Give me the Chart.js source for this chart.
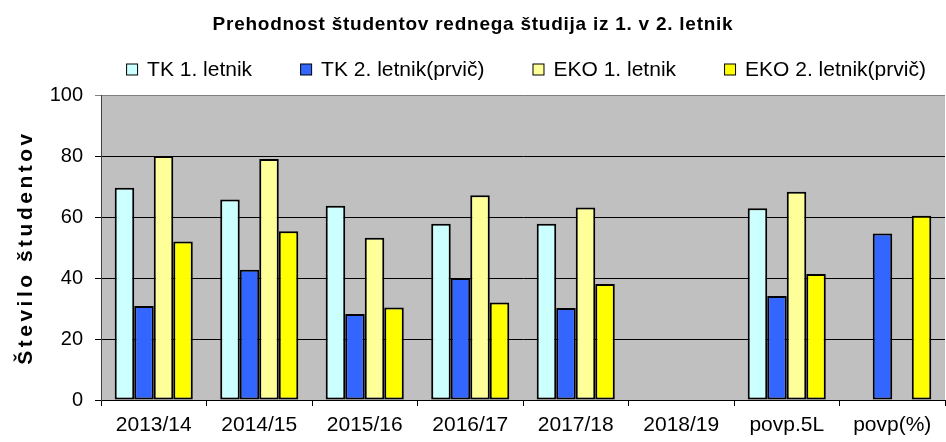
<!DOCTYPE html>
<html>
<head>
<meta charset="utf-8">
<script src="https://cdn.jsdelivr.net/npm/chart.js@4"></script>
<style>
  html, body { margin: 0; padding: 0; background: #fff; }
  #wrap { width: 946px; height: 442px; }
</style>
</head>
<body>
<div id="wrap"><canvas id="chart" width="946" height="442"></canvas></div>
<script>
// --- Data ---
const categories = ['2013/14', '2014/15', '2015/16', '2016/17', '2017/18', '2018/19', 'povp.5L', 'povp(%)'];
const tk1 = [69.6, 65.7, 63.7, 57.8, 57.8, null, 62.9, null];
const tk2 = [30.8, 42.7, 28.2, 40.0, 30.2, null, 34.1, 54.6];
const eko1 = [80.0, 79.0, 53.2, 67.1, 63.1, null, 68.3, null];
const eko2 = [52.0, 55.3, 30.3, 32.0, 38.0, null, 41.3, 60.4];
const yTicks = [0, 20, 40, 60, 80, 100];

const titleText = 'Prehodnost študentov rednega študija iz 1. v 2. letnik';
const yTitleText = 'Število študentov';

const FONT = "'Liberation Sans', Arial, sans-serif";

// grey plot background
const plotBg = {
    id: 'plotBg',
    beforeDraw(chart) {
        const { ctx, chartArea: a } = chart;
        ctx.save();
        ctx.fillStyle = '#C0C0C0';
        ctx.fillRect(a.left, a.top, a.right - a.left, a.bottom - a.top);
        ctx.restore();
    }
};

// title, legend and y title (drawn by hand for the letter spacing / wide legend gaps)
const texts = {
    id: 'texts',
    afterDraw(chart) {
        const { ctx, chartArea: a } = chart;
        ctx.save();
        ctx.fillStyle = '#000';

        // title
        ctx.font = 'bold 19px ' + FONT;
        ctx.letterSpacing = '0.75px';
        ctx.textAlign = 'center';
        ctx.textBaseline = 'middle';
        ctx.fillText(titleText, chart.width / 2, 25);

        // y axis title
        ctx.font = 'bold 21px ' + FONT;
        ctx.letterSpacing = '3.5px';
        ctx.translate(26, (a.top + a.bottom) / 2);
        ctx.rotate(-Math.PI / 2);
        ctx.fillText(yTitleText, 0, 0);
        ctx.setTransform(1, 0, 0, 1, 0, 0);

        // legend
        ctx.letterSpacing = '0px';
        ctx.font = '21px ' + FONT;
        ctx.textAlign = 'left';
        const box = 11, gapText = 10, gapItem = 48, y = 69;
        const items = chart.data.datasets.map(ds => ({
            label: ds.label, color: ds.backgroundColor, w: ctx.measureText(ds.label).width
        }));
        const total = items.reduce((s, it) => s + box + gapText + it.w, 0) + gapItem * (items.length - 1);
        let x = (a.left + a.right) / 2 + 3 - total / 2;
        items.forEach(it => {
            ctx.fillStyle = it.color;
            ctx.fillRect(x + 0.5, y - box / 2 + 0.5, box, box);
            ctx.strokeStyle = '#000';
            ctx.lineWidth = 1;
            ctx.strokeRect(x + 0.5, y - box / 2 + 0.5, box, box);
            ctx.fillStyle = '#000';
            ctx.fillText(it.label, x + box + gapText, y + 1);
            x += box + gapText + it.w + gapItem;
        });
        ctx.restore();
    }
};

function bar(label, data, color) {
    return {
        label: label,
        data: data,
        backgroundColor: color,
        borderColor: '#000',
        borderWidth: 2,
        borderSkipped: false,
        barPercentage: 1,
        categoryPercentage: 0.74
    };
}

new Chart(document.getElementById('chart'), {
    type: 'bar',
    data: {
        labels: categories,
        datasets: [
            bar('TK 1. letnik', tk1, '#CCFFFF'),
            bar('TK 2. letnik(prvič)', tk2, '#3366FF'),
            bar('EKO 1. letnik', eko1, '#FFFF99'),
            bar('EKO 2. letnik(prvič)', eko2, '#FFFF00')
        ]
    },
    options: {
        responsive: false,
        animation: false,
        layout: { padding: { left: 0, right: 1, top: 95, bottom: 0 } },
        plugins: {
            title: { display: false },
            legend: { display: false },
            tooltip: { enabled: false }
        },
        scales: {
            x: {
                afterFit(scale) { scale.height = 42; },
                grid: {
                    offset: true,
                    drawOnChartArea: false,
                    drawTicks: true,
                    tickLength: 6,
                    color: '#000'
                },
                border: { color: '#000', width: 1 },
                ticks: {
                    color: '#000',
                    font: { family: FONT, size: 21 },
                    padding: 7,
                    maxRotation: 0,
                    autoSkip: false
                }
            },
            y: {
                min: 0,
                max: 100,
                afterFit(scale) { scale.width = 101; },
                afterBuildTicks(scale) {
                    scale.ticks = yTicks.map(v => ({ value: v }));
                },
                grid: {
                    color: ctx => ctx.tick && ctx.tick.value === 100 ? '#808080' : '#000',
                    lineWidth: 1,
                    tickLength: 6
                },
                border: { color: '#404040', width: 1 },
                ticks: {
                    color: '#000',
                    font: { family: FONT, size: 20 },
                    padding: 12
                }
            }
        }
    },
    plugins: [plotBg, texts]
});
</script>
</body>
</html>
